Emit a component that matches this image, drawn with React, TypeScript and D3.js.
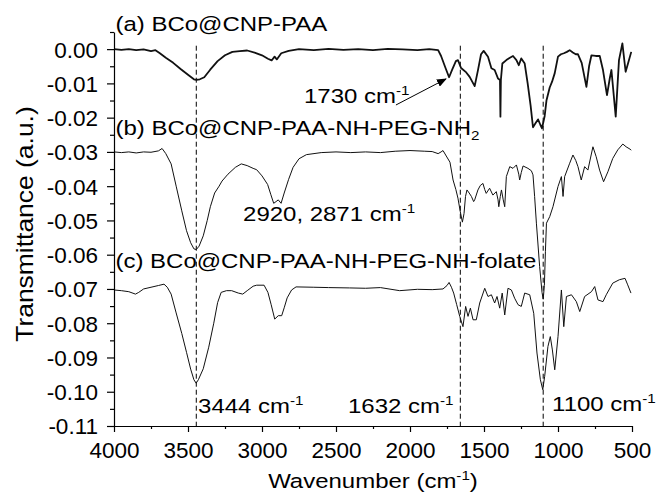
import React, { useEffect, useRef } from 'react';
import * as d3 from 'd3';

const width = 658;
const height = 495;
const margins = { top: 32, right: 26, bottom: 69, left: 114 };

const FONT = '"Liberation Sans", Arial, Helvetica, sans-serif';
const FS = 20.5;
const TICK_FS = 22.5;
// annotation text in the source is a little wider than it is tall
const SX = 1.17;

// [wavenumber (cm-1), transmittance (a.u.)]
const spectrumA: [number, number][] = [
  [4000, 0.0], [3950, -0.0002], [3900, 0.0], [3850, -0.0003], [3800, -0.0001], [3750, -0.0006],
  [3720, -0.0003], [3690, -0.0012], [3650, -0.0025], [3600, -0.004], [3550, -0.0058], [3500, -0.0075],
  [3460, -0.0088], [3444, -0.009], [3420, -0.0088], [3390, -0.0082], [3350, -0.006], [3300, -0.0035],
  [3250, -0.0018], [3200, -0.0008], [3150, -0.0006], [3100, -0.0004], [3050, -0.001], [3000, -0.0018],
  [2960, -0.0028], [2935, -0.0033], [2915, -0.0022], [2900, -0.003], [2870, -0.0012], [2820, -0.0005],
  [2750, 0.0], [2650, -0.0003], [2550, 0.0001], [2450, -0.0002], [2350, 0.0], [2250, -0.0003],
  [2150, 0.0001], [2050, -0.0001], [1950, -0.0003], [1870, 0.0], [1810, -0.0003], [1790, -0.002],
  [1760, -0.0055], [1736, -0.0082], [1715, -0.006], [1690, -0.0035], [1676, -0.0032], [1655, -0.0055],
  [1620, -0.0068], [1597, -0.0081], [1563, -0.0108], [1540, -0.006], [1520, -0.0015], [1502, -0.0005],
  [1473, -0.0022], [1450, -0.0056], [1428, -0.0061], [1405, -0.0086], [1392, -0.009], [1389, -0.0197],
  [1386, -0.009], [1376, -0.0042], [1349, -0.0032], [1325, -0.0025], [1304, -0.002], [1281, -0.0032],
  [1265, -0.0047], [1248, -0.0027], [1225, -0.0042], [1205, -0.01], [1185, -0.0165], [1169, -0.0228],
  [1150, -0.0215], [1135, -0.0205], [1120, -0.022], [1108, -0.0231], [1090, -0.0195], [1078, -0.015],
  [1056, -0.0112], [1040, -0.0095], [1022, -0.007], [1000, -0.0022], [980, -0.0015], [960, -0.0012],
  [940, -0.0008], [921, -0.0003], [900, -0.001], [880, -0.0015], [865, -0.0015], [840, -0.004],
  [808, -0.011], [790, -0.005], [774, -0.0018], [745, -0.002], [718, -0.002], [696, -0.0061],
  [669, -0.0134], [650, -0.0085], [639, -0.0061], [610, -0.0197], [588, -0.0032], [565, 0.0017],
  [543, -0.0066], [527, -0.0042], [505, -0.0008],
];

const spectrumB: [number, number][] = [
  [4000, -0.03], [3950, -0.0302], [3900, -0.03], [3850, -0.0303], [3800, -0.03], [3750, -0.0301],
  [3700, -0.0297], [3675, -0.029], [3650, -0.0305], [3614, -0.0335], [3580, -0.04], [3542, -0.0472],
  [3510, -0.053], [3482, -0.0565], [3460, -0.0583], [3444, -0.0585], [3425, -0.0575], [3397, -0.0545],
  [3370, -0.05], [3349, -0.046], [3320, -0.042], [3290, -0.04], [3270, -0.0385], [3230, -0.0365],
  [3180, -0.0345], [3140, -0.0335], [3100, -0.034], [3060, -0.0348], [3036, -0.0352], [3000, -0.037],
  [2962, -0.0395], [2940, -0.0425], [2921, -0.045], [2905, -0.0445], [2890, -0.044], [2871, -0.045],
  [2850, -0.042], [2820, -0.038], [2790, -0.0345], [2750, -0.032], [2700, -0.0308], [2600, -0.0302],
  [2500, -0.03], [2400, -0.0302], [2300, -0.03], [2200, -0.0302], [2100, -0.0298], [2000, -0.0296],
  [1900, -0.0298], [1850, -0.0299], [1810, -0.0305], [1790, -0.03], [1777, -0.0296], [1755, -0.0312],
  [1730, -0.033], [1709, -0.0382], [1690, -0.041], [1676, -0.0435], [1660, -0.0475], [1646, -0.0505],
  [1635, -0.048], [1625, -0.043], [1615, -0.0411], [1600, -0.042], [1585, -0.043], [1570, -0.0445],
  [1563, -0.044], [1541, -0.0411], [1525, -0.0398], [1507, -0.0392], [1495, -0.041], [1485, -0.0421],
  [1462, -0.0406], [1440, -0.0426], [1417, -0.0416], [1405, -0.044], [1400, -0.046], [1390, -0.043],
  [1382, -0.0411], [1370, -0.044], [1360, -0.046], [1349, -0.0372], [1326, -0.0343], [1304, -0.0348],
  [1281, -0.0338], [1265, -0.0365], [1259, -0.0382], [1248, -0.036], [1236, -0.0341], [1203, -0.0348],
  [1180, -0.0355], [1169, -0.0367], [1158, -0.043], [1146, -0.0508], [1124, -0.0635], [1108, -0.071],
  [1100, -0.073], [1092, -0.069], [1085, -0.059], [1078, -0.0508], [1056, -0.0489], [1034, -0.046],
  [1000, -0.0401], [977, -0.0372], [966, -0.043], [955, -0.0372], [921, -0.0333], [899, -0.0309],
  [880, -0.0325], [865, -0.0343], [843, -0.0382], [820, -0.0343], [798, -0.0353], [764, -0.0285],
  [742, -0.0314], [719, -0.0353], [692, -0.0387], [663, -0.0358], [630, -0.0319], [596, -0.0294],
  [562, -0.0277], [540, -0.0285], [513, -0.0292], [505, -0.0295],
];

const spectrumC: [number, number][] = [
  [4000, -0.0703], [3950, -0.0705], [3900, -0.0708], [3855, -0.0715], [3833, -0.071], [3800, -0.07],
  [3750, -0.0695], [3700, -0.069], [3662, -0.0686], [3640, -0.0695], [3614, -0.0715], [3580, -0.077],
  [3542, -0.083], [3510, -0.0885], [3482, -0.0934], [3460, -0.0965], [3445, -0.0975], [3430, -0.0965],
  [3397, -0.0933], [3360, -0.087], [3326, -0.08], [3300, -0.074], [3276, -0.071], [3240, -0.0705],
  [3205, -0.0705], [3160, -0.0712], [3130, -0.0715], [3100, -0.0705], [3060, -0.0692], [3036, -0.0689],
  [2986, -0.0689], [2960, -0.071], [2938, -0.0746], [2914, -0.0788], [2890, -0.0778], [2867, -0.0778],
  [2850, -0.0755], [2830, -0.0726], [2800, -0.0703], [2770, -0.0694], [2650, -0.0695], [2550, -0.0696],
  [2408, -0.0697], [2300, -0.0698], [2200, -0.0696], [2070, -0.0705], [1950, -0.0701], [1850, -0.0702],
  [1777, -0.07], [1750, -0.069], [1736, -0.0681], [1720, -0.0695], [1705, -0.0712], [1685, -0.0745],
  [1664, -0.078], [1642, -0.081], [1624, -0.0751], [1608, -0.078], [1592, -0.0756], [1574, -0.079],
  [1552, -0.079], [1529, -0.0741], [1495, -0.0698], [1473, -0.0722], [1450, -0.0717], [1428, -0.0741],
  [1412, -0.0722], [1394, -0.0756], [1377, -0.0712], [1360, -0.0776], [1338, -0.0698], [1315, -0.0703],
  [1293, -0.0727], [1270, -0.0746], [1248, -0.0751], [1225, -0.0712], [1191, -0.0717], [1164, -0.0771],
  [1142, -0.0887], [1119, -0.0965], [1103, -0.0994], [1090, -0.0955], [1068, -0.0868], [1052, -0.0839],
  [1038, -0.0878], [1022, -0.0936], [1000, -0.0839], [977, -0.0703], [961, -0.081], [943, -0.0722],
  [909, -0.0717], [876, -0.0737], [853, -0.0766], [820, -0.0722], [774, -0.0708], [752, -0.0693],
  [730, -0.0732], [696, -0.0737], [674, -0.0717], [630, -0.0683], [585, -0.0673], [547, -0.0669],
  [529, -0.0688], [507, -0.0712],
];

const xTicks = [4000, 3500, 3000, 2500, 2000, 1500, 1000, 500];
const xMinorTicks = [3750, 3250, 2750, 2250, 1750, 1250, 750];
const yTicks = [0, -0.01, -0.02, -0.03, -0.04, -0.05, -0.06, -0.07, -0.08, -0.09, -0.1, -0.11];
const yMinorTicks = [0.005, -0.005, -0.015, -0.025, -0.035, -0.045, -0.055, -0.065, -0.075, -0.085, -0.095, -0.105];

// dashed guide lines (cm-1)
const guideLines = [3444, 1660, 1100];
const guideTop = 0.001;

// label anchors: [wavenumber, value]
const labelA: [number, number] = [3990, 0.0053];
const labelB: [number, number] = [3990, -0.0251];
const labelC: [number, number] = [3990, -0.0638];
const label1730: [number, number] = [2716, -0.0157];
const label2920: [number, number] = [3128, -0.0502];
const label3444: [number, number] = [3432, -0.1062];
const label1632: [number, number] = [2419, -0.1062];
const label1100: [number, number] = [1040, -0.1056];
const arrowFrom: [number, number] = [2095, -0.0163];
const arrowTo: [number, number] = [1757, -0.0087];

const x = d3.scaleLinear().domain([4000, 500]).range([margins.left, width - margins.right]);
const y = d3.scaleLinear().domain([-0.11, 0.005]).range([height - margins.bottom, margins.top]);

const line = d3.line<[number, number]>().x(d => x(d[0])).y(d => y(d[1]));

function Label({ at, children }: { at: [number, number]; children: React.ReactNode }) {
  return (
    <text transform={`translate(${x(at[0])},${y(at[1])}) scale(${SX},1)`} fontFamily={FONT} fontSize={FS} fill="#000">
      {children}
    </text>
  );
}

const Sup = ({ t }: { t: string }) => <tspan dy={-8} fontSize={13}>{t}</tspan>;

export default function App() {
  const svgRef = useRef<SVGSVGElement>(null);

  useEffect(() => {
    const svg = d3.select(svgRef.current);
    const bottom = height - margins.bottom;

    // x axis, major + minor
    const gx = svg.select<SVGGElement>('.axis--x').attr('transform', `translate(0,${bottom})`);
    gx.call(d3.axisBottom(x).tickValues(xTicks).tickSize(6).tickSizeOuter(0).tickFormat(d => String(d)));
    gx.selectAll('text')
      .attr('y', 16).attr('dy', '0.71em')
      .attr('font-family', FONT).attr('font-size', TICK_FS).attr('fill', '#000');

    const gxm = svg.select<SVGGElement>('.axis--x-minor').attr('transform', `translate(0,${bottom})`);
    gxm.call(d3.axisBottom(x).tickValues(xMinorTicks).tickSize(3).tickSizeOuter(0).tickFormat(() => ''));
    gxm.select('.domain').remove();

    // y axis, major + minor
    const gy = svg.select<SVGGElement>('.axis--y').attr('transform', `translate(${margins.left},0)`);
    gy.call(d3.axisLeft(y).tickValues(yTicks).tickSize(7).tickSizeOuter(0)
      .tickFormat(d => (Math.abs(+d) < 1e-9 ? '0.00' : (+d).toFixed(2))));
    gy.selectAll('text')
      .attr('x', -16).attr('dy', '0.35em')
      .attr('font-family', FONT).attr('font-size', TICK_FS).attr('fill', '#000');

    const gym = svg.select<SVGGElement>('.axis--y-minor').attr('transform', `translate(${margins.left},0)`);
    gym.call(d3.axisLeft(y).tickValues(yMinorTicks).tickSize(4).tickSizeOuter(0).tickFormat(() => ''));
    gym.select('.domain').remove();

    svg.selectAll('.axis path, .axis line').attr('stroke', '#000').attr('stroke-width', 1.2);
  }, []);

  const bottom = height - margins.bottom;

  return (
    <svg ref={svgRef} width={width} height={height}
      style={{ position: 'absolute', left: 0, top: 0, background: '#fff' }}>
      <defs>
        <marker id="arrowhead" viewBox="0 0 10 8" refX={9} refY={4} markerWidth={10} markerHeight={8}
          markerUnits="userSpaceOnUse" orient="auto">
          <path d="M0,0 L10,4 L0,8 z" fill="#000" />
        </marker>
      </defs>

      {guideLines.map(wn => (
        <line key={wn} x1={x(wn)} x2={x(wn)} y1={y(guideTop)} y2={bottom}
          stroke="#000" strokeWidth={1} strokeDasharray="5,3" />
      ))}

      <path d={line(spectrumA) ?? ''} fill="none" stroke="#111" strokeWidth={1.8} strokeLinejoin="round" />
      <path d={line(spectrumB) ?? ''} fill="none" stroke="#111" strokeWidth={1} strokeLinejoin="round" />
      <path d={line(spectrumC) ?? ''} fill="none" stroke="#111" strokeWidth={1} strokeLinejoin="round" />

      <g className="axis axis--x-minor" />
      <g className="axis axis--y-minor" />
      <g className="axis axis--x" />
      <g className="axis axis--y" />

      <line x1={x(arrowFrom[0])} y1={y(arrowFrom[1])} x2={x(arrowTo[0])} y2={y(arrowTo[1])}
        stroke="#000" strokeWidth={1} markerEnd="url(#arrowhead)" />

      <Label at={labelA}>(a) BCo@CNP-PAA</Label>
      <Label at={labelB}>(b) BCo@CNP-PAA-NH-PEG-NH<tspan dy={5} fontSize={13}>2</tspan></Label>
      <Label at={labelC}>(c) BCo@CNP-PAA-NH-PEG-NH-folate</Label>
      <Label at={label1730}>1730 cm<Sup t="-1" /></Label>
      <Label at={label2920}>2920, 2871 cm<Sup t="-1" /></Label>
      <Label at={label3444}>3444 cm<Sup t="-1" /></Label>
      <Label at={label1632}>1632 cm<Sup t="-1" /></Label>
      <Label at={label1100}>1100 cm<Sup t="-1" /></Label>

      <text transform={`translate(${(x(4000) + x(500)) / 2},488) scale(${SX},1)`} textAnchor="middle"
        fontFamily={FONT} fontSize={FS} fill="#000">
        Wavenumber (cm<Sup t="-1" /><tspan dy={8}>)</tspan>
      </text>
      <text transform={`translate(33,${(y(-0.11) + y(0.005)) / 2 - 5}) rotate(-90) scale(1.15,1)`} textAnchor="middle"
        fontFamily={FONT} fontSize={23} fill="#000">
        Transmittance (a.u.)
      </text>
    </svg>
  );
}
